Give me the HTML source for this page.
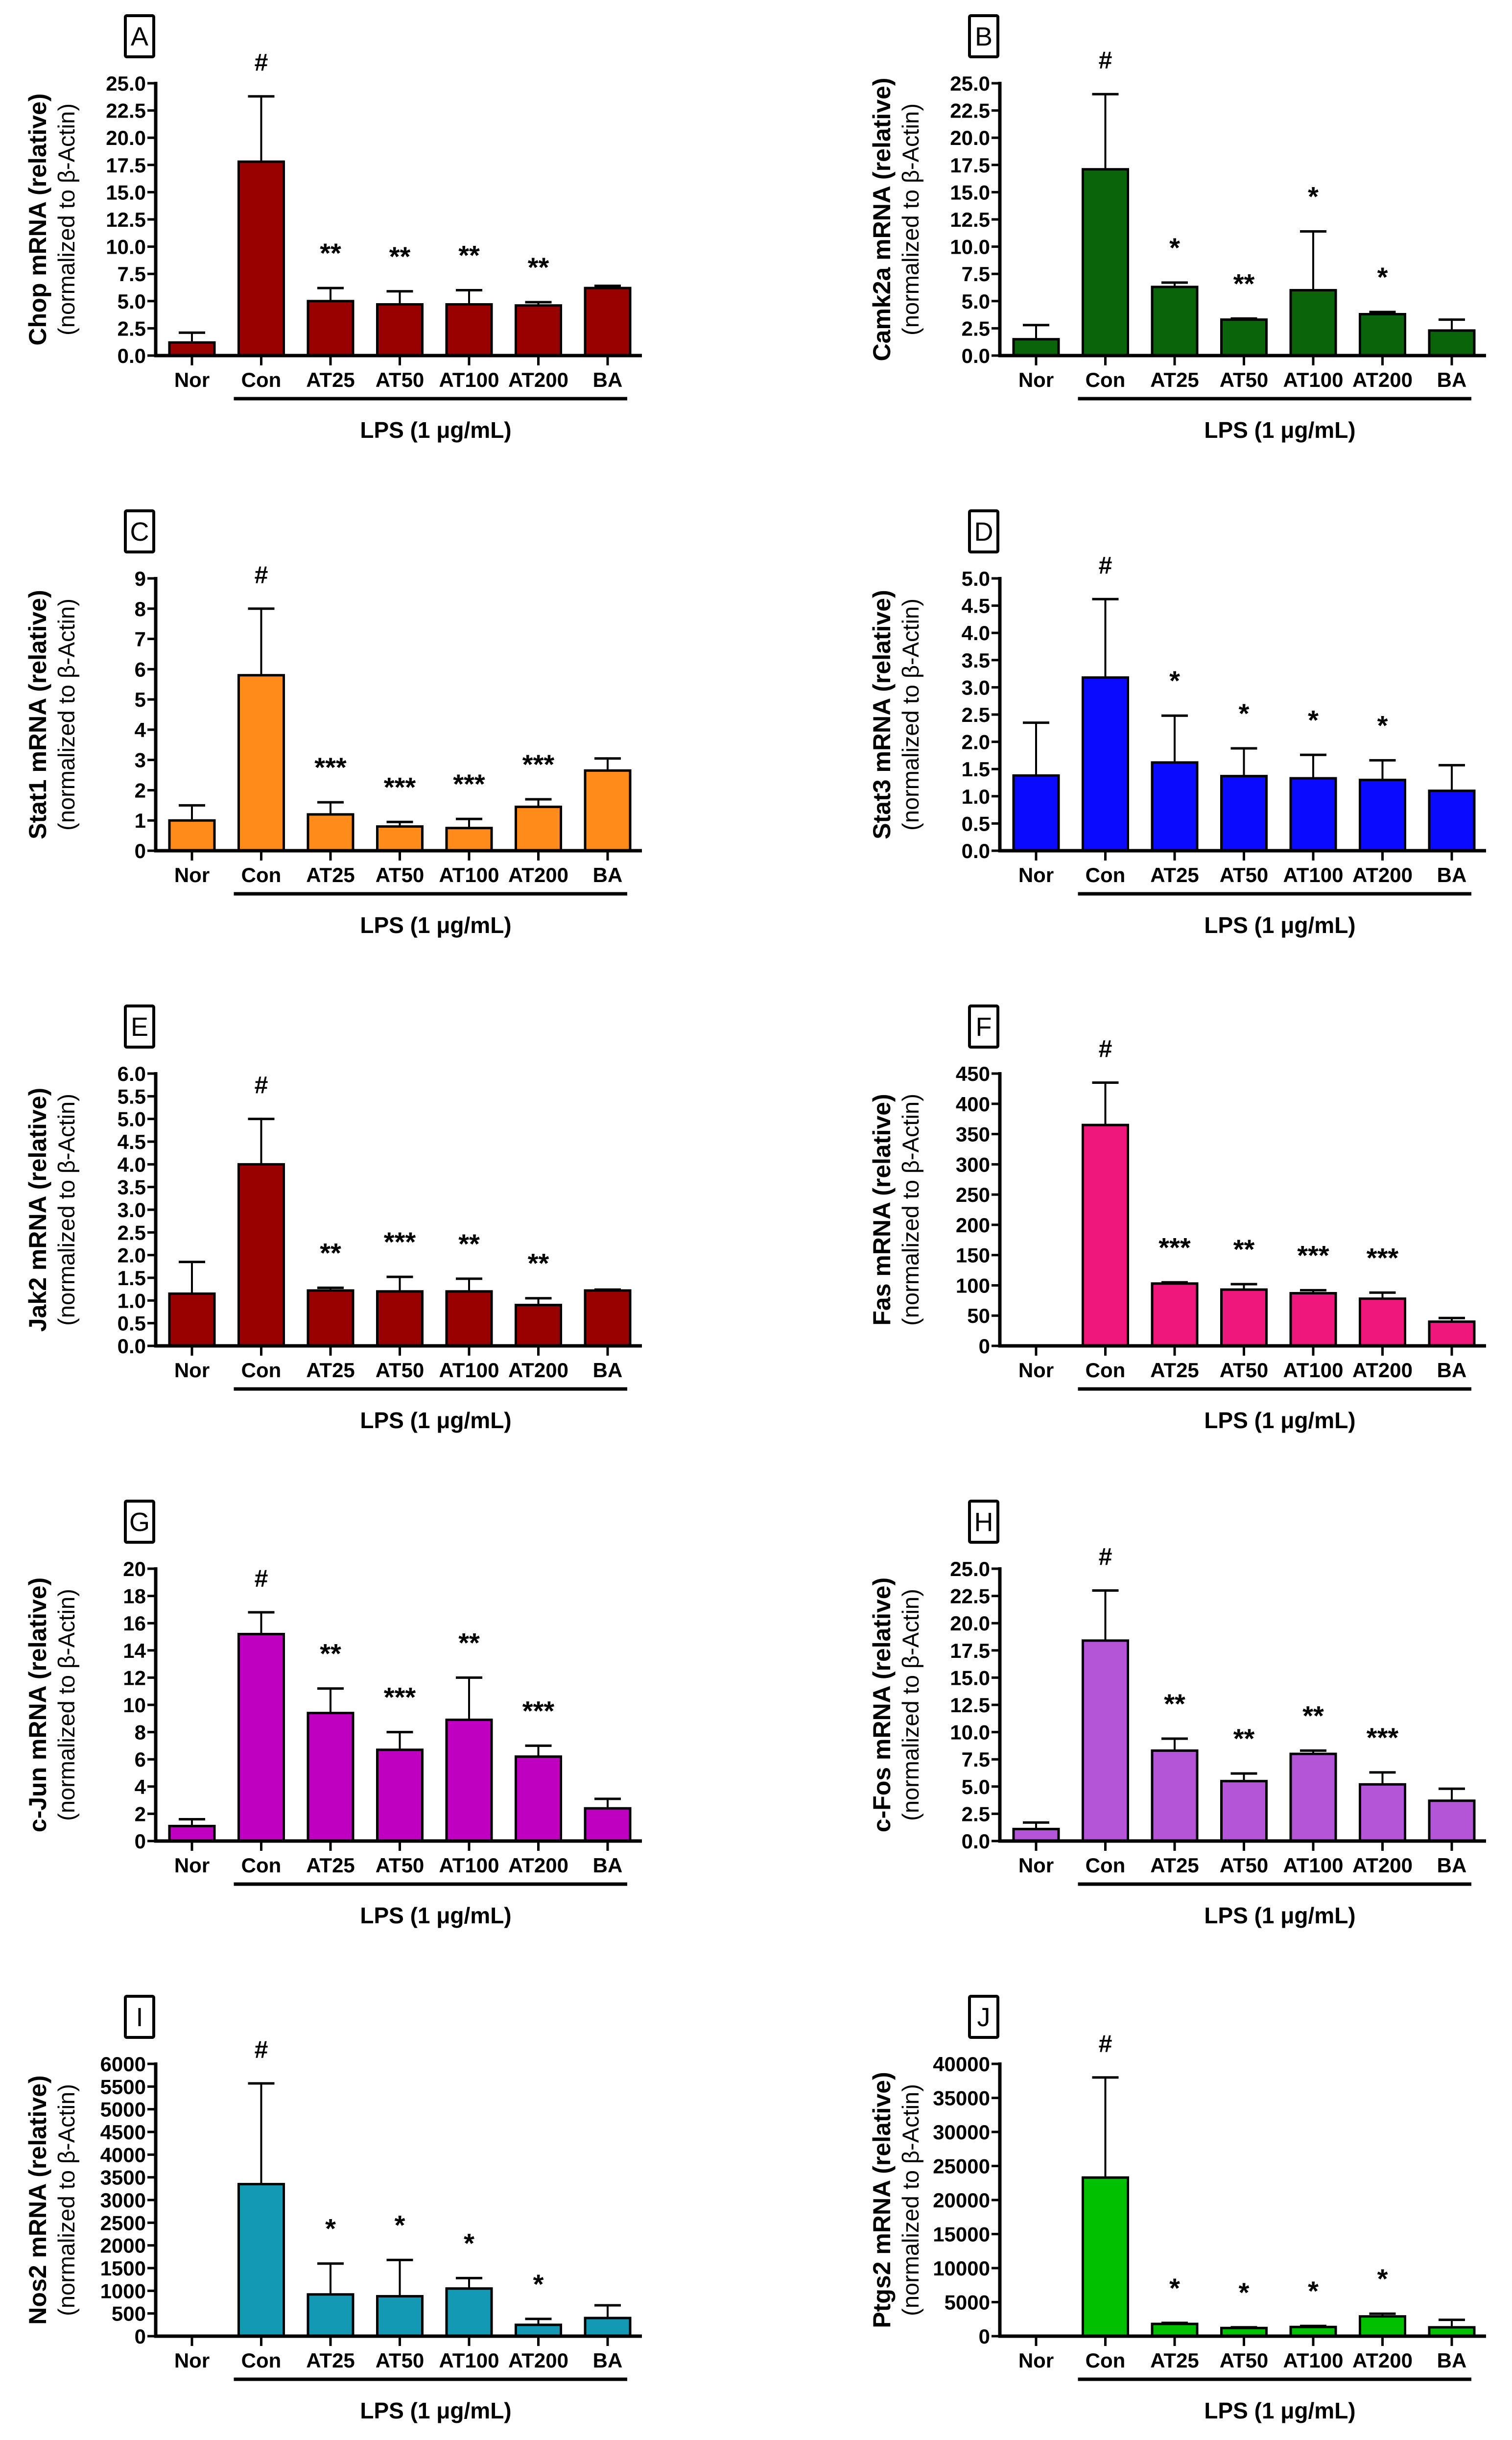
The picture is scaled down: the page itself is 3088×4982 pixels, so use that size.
<!DOCTYPE html>
<html><head><meta charset="utf-8">
<style>
html,body{margin:0;padding:0;background:#fff;}
svg{display:block;}
text{font-family:"Liberation Sans",Arial,sans-serif;}
</style></head>
<body>
<svg id="fig" width="3088" height="4982" viewBox="0 0 3088 4982" xmlns="http://www.w3.org/2000/svg"></svg>
<script>
const categories = ["Nor","Con","AT25","AT50","AT100","AT200","BA"];
const panelLetters = ["A","B","C","D","E","F","G","H","I","J"];
const genes = ["Chop","Camk2a","Stat1","Stat3","Jak2","Fas","c-Jun","c-Fos","Nos2","Ptgs2"];
const colors = ["#990000","#0a640a","#ff8c1a","#0a0aff","#990000","#f0177c","#c000c0","#b455d8","#1399b3","#00c000"];
const yMax = [25,25,9,5,6,450,20,25,6000,40000];
const yStep = [2.5,2.5,1,0.5,0.5,50,2,2.5,500,5000];
const yDecimals = [1,1,0,1,1,0,0,1,0,0];
const meanA = [1.2,17.8,5.0,4.7,4.7,4.6,6.2];
const errA = [2.1,23.8,6.2,5.9,6.0,4.9,6.4];
const meanB = [1.5,17.1,6.3,3.3,6.0,3.8,2.3];
const errB = [2.8,24.0,6.7,3.4,11.4,4.0,3.3];
const meanC = [1.0,5.8,1.2,0.8,0.75,1.45,2.65];
const errC = [1.5,8.0,1.6,0.95,1.05,1.7,3.05];
const meanD = [1.38,3.18,1.62,1.37,1.33,1.3,1.1];
const errD = [2.35,4.62,2.48,1.88,1.76,1.66,1.57];
const meanE = [1.15,4.0,1.22,1.2,1.2,0.9,1.22];
const errE = [1.85,5.0,1.28,1.52,1.48,1.05,1.24];
const meanF = [0,365,103,93,87,78,40];
const errF = [0,435,105,102,92,88,46];
const meanG = [1.1,15.2,9.4,6.7,8.9,6.2,2.4];
const errG = [1.6,16.8,11.2,8.0,12.0,7.0,3.1];
const meanH = [1.1,18.4,8.3,5.5,8.0,5.2,3.7];
const errH = [1.7,23.0,9.4,6.2,8.3,6.3,4.8];
const meanI = [0,3350,920,880,1050,250,400];
const errI = [0,5570,1600,1680,1280,380,680];
const meanJ = [0,23300,1800,1200,1350,2900,1300];
const errJ = [0,38000,1950,1300,1500,3300,2400];
const marksA = ["","#","**","**","**","**",""];
const marksB = ["","#","*","**","*","*",""];
const marksC = ["","#","***","***","***","***",""];
const marksD = ["","#","*","*","*","*",""];
const marksE = ["","#","**","***","**","**",""];
const marksF = ["","#","***","**","***","***",""];
const marksG = ["","#","**","***","**","***",""];
const marksH = ["","#","**","**","**","***",""];
const marksI = ["","#","*","*","*","*",""];
const marksJ = ["","#","*","*","*","*",""];
const means = [meanA,meanB,meanC,meanD,meanE,meanF,meanG,meanH,meanI,meanJ];
const errs = [errA,errB,errC,errD,errE,errF,errG,errH,errI,errJ];
const marks = [marksA,marksB,marksC,marksD,marksE,marksF,marksG,marksH,marksI,marksJ];

const NS="http://www.w3.org/2000/svg";
const svg=document.getElementById('fig');
function mk(tag,attrs,parent){const e=document.createElementNS(NS,tag);for(const k in attrs)e.setAttribute(k,attrs[k]);(parent||svg).appendChild(e);return e;}

for(let p=0;p<10;p++){
  const col=p%2,row=Math.floor(p/2);
  const ax=col===0?318:2042;
  const zero=726+row*1011;
  const H=556;
  const top=zero-H;
  const g=mk('g',{});
  
  
  const yS=v=>zero-v/yMax[p]*H;
  const xS=i=>ax+74+i*141.5;
  const box=mk('rect',{x:ax-62,y:zero-694,width:58,height:84,fill:'#fff',stroke:'#000','stroke-width':6,rx:3},g);
  
  
  const lt=mk('text',{x:ax-33,y:zero-633,'font-size':54,'text-anchor':'middle'},g);
  lt.textContent=panelLetters[p];
  
  
  const cy=zero-H/2;
  const t1=mk('text',{x:0,y:0,'font-size':50,'font-weight':'bold','text-anchor':'middle',transform:`translate(${ax-224},${cy}) rotate(-90)`},g);
  t1.textContent=genes[p]+' mRNA (relative)';
  
  
  const t2=mk('text',{x:0,y:0,'font-size':47,'text-anchor':'middle',transform:`translate(${ax-166},${cy}) rotate(-90)`},g);
  t2.textContent='(normalized to β-Actin)';
  
  
  const n=Math.round(yMax[p]/yStep[p]);
  for(let k=0;k<=n;k++){
    const v=k*yStep[p],y=yS(v);
    const tk=mk('line',{x1:ax-17,x2:ax,y1:y,y2:y,stroke:'#000','stroke-width':5},g);
    
    
    const tl=mk('text',{x:ax-20,y:y+15,'font-size':42,'font-weight':'bold','text-anchor':'end'},g);
    tl.textContent=v.toFixed(yDecimals[p]);
    
    
  }
  for(let i=0;i<categories.length;i++){
    const cx=xS(i),m=means[p][i],e=errs[p][i];
    if(e>m){
      const el=mk('line',{x1:cx,x2:cx,y1:yS(m),y2:yS(e),stroke:'#000','stroke-width':4},g);
      
      
      const ec=mk('line',{x1:cx-27,x2:cx+27,y1:yS(e),y2:yS(e),stroke:'#000','stroke-width':5},g);
      
      
    }
    if(m>0){
      const b=mk('rect',{x:cx-46,y:yS(m),width:92,height:zero-yS(m),fill:colors[p],stroke:'#000','stroke-width':5},g);
      
      
    }
    const xt=mk('line',{x1:cx,x2:cx,y1:zero,y2:zero+20,stroke:'#000','stroke-width':5},g);
    
    
    const xl=mk('text',{x:cx,y:zero+64,'font-size':42,'font-weight':'bold','text-anchor':'middle'},g);
    xl.textContent=categories[i];
    
    
    if(marks[p][i]){
      const mt=mk('text',{x:cx,y:yS(Math.max(e,m))-52,'font-size':marks[p][i]==='#'?50:56,'font-weight':'bold','text-anchor':'middle'},g);
      mt.textContent=marks[p][i];
      
      
    }
  }
  const ya=mk('line',{x1:ax,x2:ax,y1:top-3,y2:zero+3,stroke:'#000','stroke-width':7},g);
  
  
  const xa=mk('line',{x1:ax-3,x2:ax+993,y1:zero,y2:zero,stroke:'#000','stroke-width':7},g);
  
  
  const ul=mk('line',{x1:xS(1)-56,x2:xS(6)+40,y1:zero+88,y2:zero+88,stroke:'#000','stroke-width':7},g);
  
  
  const lps=mk('text',{x:ax+572,y:zero+168,'font-size':46,'font-weight':'bold','text-anchor':'middle'},g);
  lps.textContent='LPS (1 μg/mL)';
  
  
}
</script>
</body></html>
